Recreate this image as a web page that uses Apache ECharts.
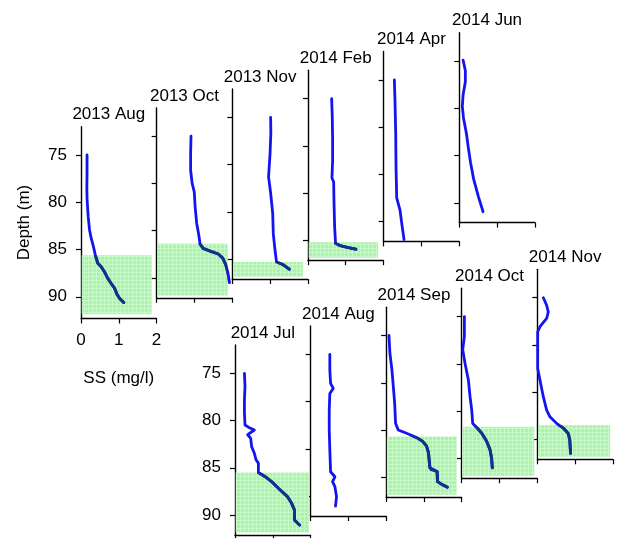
<!DOCTYPE html>
<html>
<head>
<meta charset="utf-8">
<script src="https://cdn.jsdelivr.net/npm/echarts@6/dist/echarts.min.js"></script>
<style>
  html, body { margin: 0; padding: 0; background: #ffffff; }
  #chart { width: 625px; height: 538px; }
</style>
</head>
<body>
<div id="chart"></div>
<script>
// Suspended sediment (SS, mg/l) profiles against depth (m), one panel per survey.
const surveyNames = ['2013 Aug', '2013 Oct', '2013 Nov', '2014 Feb', '2014 Apr', '2014 Jun',
                     '2014 Jul', '2014 Aug', '2014 Sep', '2014 Oct', '2014 Nov'];

const aug13SS    = [0.16, 0.16, 0.155, 0.16, 0.19, 0.225, 0.27, 0.33, 0.38, 0.445, 0.53, 0.62, 0.71, 0.8, 0.89, 0.95, 1.02, 1.13];
const aug13Depth = [75, 76.9, 78.5, 79.6, 81.5, 82.9, 83.8, 84.7, 85.6, 86.46, 86.8, 87.35, 88.05, 88.6, 89.1, 89.7, 90.17, 90.6];

const oct13SS    = [0.91, 0.9, 0.9, 0.94, 0.996, 1.02, 1.06, 1.11, 1.15, 1.23, 1.41, 1.63, 1.75, 1.83, 1.89, 1.93];
const oct13Depth = [75, 76.8, 78.6, 80, 80.9, 82.5, 84.2, 85.3, 86.4, 86.87, 87.15, 87.46, 87.9, 88.6, 89.5, 90.5];

const nov13SS    = [1.015, 1.02, 1.0, 0.96, 1.015, 1.07, 1.085, 1.13, 1.17, 1.35, 1.51];
const nov13Depth = [75, 76.7, 78.8, 81.3, 83.0, 85.15, 87.3, 89.0, 90.27, 90.6, 91.06];

const feb14SS    = [0.627, 0.643, 0.653, 0.653, 0.635, 0.68, 0.688, 0.706, 0.73, 0.85, 1.07, 1.27];
const feb14Depth = [75, 76.9, 79.4, 81.5, 83.4, 83.8, 85.7, 88.6, 90.3, 90.56, 90.77, 90.94];

const apr14SS    = [0.284, 0.3, 0.32, 0.328, 0.346, 0.434, 0.48, 0.54];
const apr14Depth = [75, 77.1, 80.7, 84.2, 87.5, 88.8, 90.2, 91.9];

const jun14SS    = [0.1, 0.16, 0.16, 0.1, 0.08, 0.11, 0.19, 0.24, 0.3, 0.38, 0.51, 0.63];
const jun14Depth = [74.9, 76, 77.2, 78.6, 79.8, 81, 82.7, 84.2, 85.8, 87.5, 89.4, 90.95];

const jul14SS    = [0.25, 0.265, 0.25, 0.25, 0.265, 0.354, 0.513, 0.336, 0.416, 0.44, 0.513, 0.558, 0.62, 0.62, 0.8, 0.97, 1.15, 1.39, 1.5, 1.575, 1.575, 1.71];
const jul14Depth = [75, 76.4, 77.8, 79.2, 80.47, 80.7, 81.0, 81.5, 81.88, 82.76, 83.47, 84.17, 84.5, 85.5, 85.94, 86.46, 87.17, 88.05, 88.76, 89.46, 90.52, 91.05];

const aug14SS    = [0.51, 0.51, 0.53, 0.6, 0.51, 0.494, 0.494, 0.51, 0.53, 0.644, 0.582, 0.644, 0.688, 0.66];
const aug14Depth = [75, 76.66, 78.07, 78.6, 79.13, 80.9, 83, 85.12, 87.42, 87.95, 88.47, 89, 90.06, 91.05];

const sep14SS    = [0.074, 0.1, 0.153, 0.19, 0.225, 0.25, 0.32, 0.54, 0.807, 0.966, 1.07, 1.12, 1.16, 1.2, 1.35, 1.36, 1.47, 1.62];
const sep14Depth = [75, 76.9, 78.65, 80.4, 82.17, 84.3, 85.0, 85.35, 85.8, 86.2, 86.7, 87.4, 89.0, 89.2, 89.4, 90.46, 90.75, 91.05];

const oct14SS    = [0.07, 0.07, 0.026, 0.088, 0.176, 0.22, 0.265, 0.29, 0.38, 0.53, 0.66, 0.75, 0.79, 0.81];
const oct14Depth = [75, 77.1, 78.5, 79.96, 81.7, 83.47, 84.9, 86.3, 86.65, 87.35, 88.2, 89.1, 89.98, 91.0];

const nov14SS    = [0.16, 0.247, 0.29, 0.247, 0.07, 0.01, 0.01, 0.01, 0.07, 0.16, 0.247, 0.335, 0.51, 0.69, 0.82, 0.86, 0.88];
const nov14Depth = [75, 75.8, 76.5, 77.2, 78.07, 78.6, 80.5, 82.5, 83.7, 85.5, 86.9, 87.6, 88.3, 88.8, 89.36, 90.06, 91.47];

// Bottom layer (shaded): top depth and SS extent per survey; null = no layer.
const layerTopDepth = [85.6, 86.35, 90.3, 90.2, null, null, 85.5, null, 85.7, 86.65, 88.5];
const layerSSWidth  = [1.87, 1.88, 1.87, 1.86, null, null, 1.96, null, 1.87, 1.92, 1.93];
const layerBottomDepth = 91.85;

const depthTicks = [75, 80, 85, 90];
const ssMin = 0, ssMax = 2, ssStep = 1;
const depthMin = 72;

const profiles = [
  [aug13SS, aug13Depth], [oct13SS, oct13Depth], [nov13SS, nov13Depth], [feb14SS, feb14Depth],
  [apr14SS, apr14Depth], [jun14SS, jun14Depth], [jul14SS, jul14Depth], [aug14SS, aug14Depth],
  [sep14SS, sep14Depth], [oct14SS, oct14Depth], [nov14SS, nov14Depth]
];

// ---- layout: two staircase rows of panels ----
const PX_PER_M = 9.45;
const PANEL_W = 75.5;
const rows = [
  { x0: 81,  y0: 126.65, dx: 75.66, dy: -18.8, count: 6 },
  { x0: 235, y0: 344.95, dx: 75.58, dy: -18.9, count: 5 }
];
const FONT = 'Liberation Sans, Arial, sans-serif';
const FS = 17;
const LINE_BLUE = '#1414f0';
const LINE_IN_LAYER = '#0e3388';
const LINE_W = 2.8;

const panels = [];
rows.forEach(r => {
  for (let i = 0; i < r.count; i++) {
    panels.push({ left: r.x0 + i * r.dx, top: r.y0 + i * r.dy });
  }
});

// light green fill with a fine lighter grid texture
function makeLayerPattern() {
  const c = document.createElement('canvas');
  c.width = 4; c.height = 4;
  const g = c.getContext('2d');
  g.fillStyle = 'rgb(168,244,168)';
  g.fillRect(0, 0, 4, 4);
  g.fillStyle = 'rgb(200,249,200)';
  g.fillRect(0, 0, 4, 1);
  g.fillRect(0, 1, 1, 3);
  return c;
}
const layerPattern = makeLayerPattern();

const grids = [], xAxes = [], yAxes = [], series = [], graphics = [];

panels.forEach((p, k) => {
  const depthMax = k === 0 ? 92.3 : 92.1;
  const h = (depthMax - depthMin) * PX_PER_M;
  grids.push({ left: p.left, top: p.top, width: PANEL_W, height: h, containLabel: false });

  const showY = (k === 0 || k === 6);
  const showX = (k === 0);

  xAxes.push({
    gridIndex: k, type: 'value', min: ssMin, max: ssMax, interval: ssStep, position: 'bottom',
    axisLine: { show: true, onZero: false, lineStyle: { color: '#000', width: 1.4 } },
    axisTick: { show: true, inside: false, length: 5, lineStyle: { color: '#000', width: 1.2 } },
    axisLabel: { show: showX, margin: 13, color: '#000', fontFamily: FONT, fontSize: FS },
    splitLine: { show: false },
    name: showX ? 'SS (mg/l)' : '', nameLocation: 'middle', nameGap: 51,
    nameTextStyle: { color: '#000', fontFamily: FONT, fontSize: FS }
  });

  yAxes.push({
    gridIndex: k, type: 'value', inverse: true, min: depthMin, max: depthMax, position: 'left',
    axisLine: { show: true, onZero: false, lineStyle: { color: '#000', width: 1.4 } },
    axisTick: { show: true, inside: false, length: 5, customValues: depthTicks, lineStyle: { color: '#000', width: 1.2 } },
    axisLabel: { show: showY, customValues: depthTicks, margin: 14, color: '#000', fontFamily: FONT, fontSize: FS },
    splitLine: { show: false },
    name: k === 0 ? 'Depth (m)' : '', nameLocation: 'middle', nameRotate: 90, nameGap: 48,
    nameTextStyle: { color: '#000', fontFamily: FONT, fontSize: FS }
  });

  const [ss, dep] = profiles[k];
  const hasLayer = layerTopDepth[k] != null;

  // shaded bottom layer, drawn beneath the profile
  if (hasLayer) {
    series.push({
      type: 'custom', xAxisIndex: k, yAxisIndex: k, z: 1, silent: true, animation: false,
      data: [[ssMin, layerTopDepth[k], layerSSWidth[k], layerBottomDepth]],
      renderItem: function (params, api) {
        const a = api.coord([api.value(0), api.value(1)]);
        const b = api.coord([api.value(2), api.value(3)]);
        return {
          type: 'rect',
          shape: { x: a[0] + 0.7, y: Math.min(a[1], b[1]), width: b[0] - a[0] - 0.7, height: Math.abs(b[1] - a[1]) },
          style: { fill: { image: layerPattern, repeat: 'repeat' } }
        };
      }
    });
  }

  // SS profile
  series.push({
    type: 'line', xAxisIndex: k, yAxisIndex: k, z: 2,
    data: ss.map((v, i) => [v, dep[i]]),
    showSymbol: false, symbol: 'none', smooth: false,
    lineStyle: { color: LINE_BLUE, width: LINE_W, cap: 'round', join: 'round' },
    silent: true, animation: false
  });

  // the profile appears dark where it runs through the shaded layer
  if (hasLayer) {
    series.push({
      type: 'custom', xAxisIndex: k, yAxisIndex: k, z: 3, silent: true, animation: false,
      data: [[ssMin, layerTopDepth[k], layerSSWidth[k], layerBottomDepth]],
      renderItem: function (params, api) {
        const a = api.coord([api.value(0), api.value(1)]);
        const b = api.coord([api.value(2), api.value(3)]);
        const pts = ss.map((v, i) => api.coord([v, dep[i]]));
        return {
          type: 'polyline',
          shape: { points: pts },
          style: { stroke: LINE_IN_LAYER, lineWidth: LINE_W + 0.2, fill: null, lineCap: 'round', lineJoin: 'round' },
          clipPath: { type: 'rect', shape: { x: a[0], y: Math.min(a[1], b[1]), width: b[0] - a[0], height: Math.abs(b[1] - a[1]) + 3 } }
        };
      }
    });
  }

  graphics.push({
    type: 'text', x: p.left + 27.8, y: p.top - 12, z: 10,
    style: { text: surveyNames[k], fill: '#000', font: FS + 'px ' + FONT, textAlign: 'center', textVerticalAlign: 'middle' }
  });
});

const chart = echarts.init(document.getElementById('chart'), null, { renderer: 'canvas' });
chart.setOption({
  animation: false,
  backgroundColor: '#ffffff',
  grid: grids,
  xAxis: xAxes,
  yAxis: yAxes,
  series: series,
  graphic: graphics
});
</script>
</body>
</html>
